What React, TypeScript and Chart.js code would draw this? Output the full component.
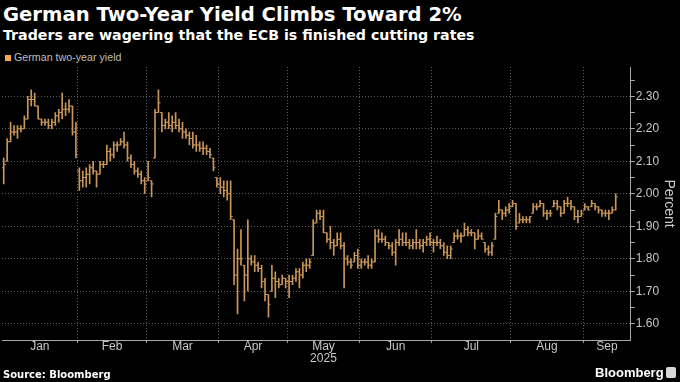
import React, { useEffect, useRef } from "react";
import { Chart, registerables } from "chart.js";

Chart.register(...registerables);

// ---- Data ----
const monthNames = ["Jan", "Feb", "Mar", "Apr", "May", "Jun", "Jul", "Aug", "Sep"];
const yearLabel = "2025";
const tradingDaysPerMonth = [22, 20, 21, 20, 21, 21, 23, 21, 10];

// Daily open / high / low / close of the German two-year yield (percent)
const yieldHigh = [
  2.11, 2.17, 2.22, 2.21, 2.21, 2.21, 2.24, 2.30, 2.32, 2.31, 2.27, 2.23, 2.23, 2.23, 2.23, 2.25, 2.26, 2.31, 2.28, 2.29, 2.27, 2.22,
  2.08, 2.07, 2.08, 2.09, 2.10, 2.07, 2.10, 2.10, 2.15, 2.14, 2.16, 2.16, 2.17, 2.19, 2.16, 2.12, 2.10, 2.08, 2.07, 2.05,
  2.10, 2.04, 2.26, 2.32, 2.25, 2.23, 2.25, 2.24, 2.25, 2.23, 2.22, 2.20, 2.19, 2.19, 2.18, 2.16, 2.16, 2.15, 2.14, 2.11, 2.05,
  2.05, 2.04, 2.04, 2.04, 1.92, 1.83, 1.89, 1.78, 1.92, 1.81, 1.81, 1.79, 1.78, 1.74, 1.69, 1.78, 1.76, 1.74, 1.75, 1.74,
  1.75, 1.75, 1.77, 1.77, 1.79, 1.80, 1.80, 1.92, 1.95, 1.95, 1.95, 1.88, 1.90, 1.86, 1.88, 1.88, 1.85, 1.81, 1.80, 1.82, 1.83,
  1.80, 1.80, 1.81, 1.80, 1.89, 1.89, 1.88, 1.87, 1.85, 1.85, 1.86, 1.89, 1.88, 1.88, 1.86, 1.86, 1.89, 1.86, 1.86, 1.87, 1.88,
  1.86, 1.87, 1.86, 1.85, 1.84, 1.84, 1.88, 1.89, 1.88, 1.91, 1.90, 1.89, 1.88, 1.89, 1.88, 1.85, 1.84, 1.85, 1.94, 1.98, 1.95, 1.96, 1.97,
  1.98, 1.97, 1.94, 1.93, 1.93, 1.93, 1.97, 1.97, 1.98, 1.97, 1.95, 1.95, 1.98, 1.98, 1.96, 1.98, 1.99, 1.98, 1.96, 1.95, 1.95,
  1.97, 1.96, 1.98, 1.97, 1.96, 1.95, 1.95, 1.95, 1.96, 2.00,
];

const yieldLow = [
  2.03, 2.10, 2.16, 2.18, 2.17, 2.19, 2.20, 2.23, 2.27, 2.27, 2.23, 2.21, 2.21, 2.20, 2.20, 2.21, 2.22, 2.23, 2.24, 2.25, 2.18, 2.11,
  2.01, 2.02, 2.02, 2.03, 2.06, 2.02, 2.06, 2.08, 2.09, 2.10, 2.11, 2.13, 2.15, 2.14, 2.10, 2.08, 2.06, 2.05, 2.03, 2.00,
  2.04, 1.99, 2.11, 2.25, 2.19, 2.20, 2.20, 2.19, 2.20, 2.19, 2.17, 2.17, 2.15, 2.14, 2.13, 2.13, 2.12, 2.12, 2.11, 2.07, 2.02,
  2.00, 1.99, 1.98, 1.92, 1.72, 1.63, 1.78, 1.67, 1.70, 1.78, 1.76, 1.76, 1.71, 1.67, 1.62, 1.70, 1.68, 1.71, 1.72, 1.71,
  1.68, 1.72, 1.73, 1.71, 1.74, 1.76, 1.77, 1.81, 1.91, 1.92, 1.88, 1.85, 1.83, 1.81, 1.84, 1.83, 1.71, 1.78, 1.77, 1.79, 1.77,
  1.77, 1.78, 1.77, 1.77, 1.79, 1.85, 1.85, 1.84, 1.83, 1.81, 1.78, 1.84, 1.84, 1.84, 1.83, 1.83, 1.83, 1.83, 1.82, 1.84, 1.84,
  1.82, 1.84, 1.83, 1.81, 1.80, 1.80, 1.85, 1.86, 1.85, 1.87, 1.87, 1.87, 1.83, 1.86, 1.86, 1.82, 1.81, 1.81, 1.86, 1.94, 1.92, 1.93, 1.94,
  1.96, 1.89, 1.91, 1.91, 1.91, 1.91, 1.94, 1.95, 1.96, 1.93, 1.92, 1.93, 1.96, 1.95, 1.93, 1.94, 1.96, 1.95, 1.92, 1.91, 1.93,
  1.95, 1.95, 1.96, 1.95, 1.94, 1.93, 1.93, 1.92, 1.94, 1.95,
];

const yieldOpen = [
  2.08, 2.10, 2.16, 2.19, 2.19, 2.20, 2.20, 2.23, 2.29, 2.29, 2.27, 2.23, 2.22, 2.22, 2.21, 2.22, 2.24, 2.25, 2.26, 2.26, 2.27, 2.19,
  2.07, 2.04, 2.05, 2.06, 2.08, 2.07, 2.06, 2.09, 2.09, 2.13, 2.12, 2.15, 2.15, 2.16, 2.15, 2.11, 2.09, 2.07, 2.06, 2.04,
  2.04, 2.04, 2.11, 2.25, 2.25, 2.21, 2.22, 2.21, 2.22, 2.21, 2.20, 2.19, 2.18, 2.17, 2.15, 2.15, 2.14, 2.14, 2.13, 2.11, 2.05,
  2.03, 2.02, 2.01, 2.00, 1.92, 1.75, 1.80, 1.78, 1.75, 1.80, 1.79, 1.78, 1.77, 1.73, 1.69, 1.70, 1.74, 1.73, 1.72, 1.74,
  1.73, 1.73, 1.74, 1.76, 1.75, 1.78, 1.78, 1.81, 1.91, 1.94, 1.93, 1.88, 1.86, 1.85, 1.84, 1.86, 1.84, 1.80, 1.79, 1.79, 1.81,
  1.78, 1.79, 1.79, 1.78, 1.79, 1.87, 1.86, 1.86, 1.85, 1.84, 1.82, 1.85, 1.86, 1.85, 1.85, 1.84, 1.85, 1.85, 1.84, 1.85, 1.86,
  1.85, 1.85, 1.85, 1.84, 1.82, 1.81, 1.85, 1.87, 1.87, 1.87, 1.89, 1.88, 1.88, 1.86, 1.87, 1.85, 1.83, 1.82, 1.86, 1.94, 1.95, 1.94, 1.95,
  1.96, 1.97, 1.91, 1.92, 1.92, 1.92, 1.94, 1.96, 1.96, 1.97, 1.94, 1.94, 1.96, 1.97, 1.96, 1.94, 1.97, 1.97, 1.96, 1.93, 1.93,
  1.95, 1.96, 1.96, 1.97, 1.96, 1.95, 1.94, 1.94, 1.94, 1.95,
];

const yieldClose = [
  2.09, 2.16, 2.19, 2.19, 2.20, 2.20, 2.23, 2.29, 2.29, 2.27, 2.23, 2.22, 2.22, 2.21, 2.22, 2.24, 2.25, 2.26, 2.26, 2.27, 2.19, 2.12,
  2.04, 2.05, 2.06, 2.08, 2.07, 2.06, 2.09, 2.09, 2.13, 2.12, 2.15, 2.15, 2.16, 2.15, 2.11, 2.09, 2.07, 2.06, 2.04, 2.03,
  2.05, 2.03, 2.25, 2.28, 2.21, 2.22, 2.21, 2.22, 2.21, 2.20, 2.19, 2.18, 2.17, 2.15, 2.15, 2.14, 2.14, 2.13, 2.12, 2.08, 2.03,
  2.02, 2.01, 2.00, 1.93, 1.75, 1.80, 1.80, 1.75, 1.80, 1.79, 1.78, 1.77, 1.73, 1.69, 1.66, 1.74, 1.73, 1.72, 1.74, 1.73,
  1.73, 1.74, 1.76, 1.75, 1.78, 1.78, 1.79, 1.91, 1.94, 1.93, 1.88, 1.86, 1.85, 1.84, 1.86, 1.84, 1.80, 1.79, 1.78, 1.81, 1.78,
  1.79, 1.79, 1.78, 1.79, 1.87, 1.86, 1.86, 1.85, 1.84, 1.82, 1.85, 1.86, 1.85, 1.85, 1.84, 1.85, 1.85, 1.84, 1.85, 1.86, 1.85,
  1.85, 1.85, 1.84, 1.82, 1.81, 1.83, 1.87, 1.87, 1.87, 1.89, 1.88, 1.88, 1.86, 1.87, 1.86, 1.83, 1.82, 1.84, 1.93, 1.95, 1.94, 1.95, 1.96,
  1.97, 1.90, 1.92, 1.92, 1.92, 1.93, 1.96, 1.96, 1.97, 1.94, 1.94, 1.94, 1.97, 1.96, 1.94, 1.97, 1.97, 1.96, 1.93, 1.93, 1.94,
  1.96, 1.95, 1.97, 1.96, 1.95, 1.94, 1.94, 1.94, 1.95, 1.99,
];

const yMin = 1.55;
const yMax = 2.39;
const yTickStep = 0.05;
const xMaxSlots = 182.4;
const tickOffset = 0.3; // open/close tick offset in slot units

const BAR_COLOR = "#c99659";
const GRID_COLOR = "#5a5a5a";
const AXIS_COLOR = "#a8a8a8";
const LABEL_COLOR = "#c8c8c8";
const FONT = "'Liberation Sans', Arial, sans-serif";

function buildMonthTicks() {
  const boundaries: number[] = [];
  const mids: number[] = [];
  let start = 0;
  tradingDaysPerMonth.forEach((n, m) => {
    const left = start - 0.5;
    const right = m === tradingDaysPerMonth.length - 1 ? xMaxSlots : start + n - 0.5;
    if (m > 0) boundaries.push(left);
    mids.push((left + right) / 2);
    start += n;
  });
  return { boundaries, mids };
}

export default function App() {
  const canvasRef = useRef<HTMLCanvasElement | null>(null);

  useEffect(() => {
    document.body.style.margin = "0";
    document.body.style.background = "#000";
    const canvas = canvasRef.current;
    if (!canvas) return;
    const { boundaries, mids } = buildMonthTicks();
    const isBoundary = (v: number) => boundaries.some((b) => Math.abs(b - v) < 1e-6);
    const midIndex = (v: number) => mids.findIndex((b) => Math.abs(b - v) < 1e-6);

    const rangeBars = yieldHigh.map((h, i) => ({ x: i, y: [yieldLow[i], h] }));
    const openTicks = yieldOpen.map((o, i) => ({ x: i - tickOffset, y: o }));
    const closeTicks = yieldClose.map((c, i) => ({ x: i + tickOffset, y: c }));

    const tickDataset = (label: string, data: any[]) => ({
      type: "scatter",
      label,
      data,
      showLine: false,
      pointStyle: "line",
      pointRadius: 1,
      pointHoverRadius: 1,
      borderColor: BAR_COLOR,
      backgroundColor: BAR_COLOR,
      pointBorderWidth: 1,
      borderWidth: 1,
    });

    const chart = new Chart(canvas, {
      type: "bar",
      data: {
        datasets: [
          {
            type: "bar",
            label: "German two-year yield",
            data: rangeBars as any,
            backgroundColor: BAR_COLOR,
            borderWidth: 0,
            barThickness: 1,
            grouped: false,
          } as any,
          tickDataset("Open", openTicks) as any,
          tickDataset("Close", closeTicks) as any,
        ],
      },
      options: {
        responsive: false,
        maintainAspectRatio: false,
        animation: false,
        layout: { padding: { top: 67, left: 0, right: 0, bottom: 19 } },
        plugins: {
          legend: { display: false },
          tooltip: { enabled: false },
        },
        scales: {
          x: {
            type: "linear",
            position: "bottom",
            offset: false,
            min: -0.5,
            max: xMaxSlots,
            afterBuildTicks: (axis: any) => {
              const vals = [...boundaries, ...mids].sort((a, b) => a - b);
              axis.ticks = vals.map((v) => ({ value: v }));
            },
            afterFit: (axis: any) => {
              axis.paddingLeft = 0;
              axis.paddingRight = 0;
            },
            ticks: {
              autoSkip: false,
              maxRotation: 0,
              padding: -2,
              color: LABEL_COLOR,
              font: { family: FONT, size: 12, lineHeight: 1.0 },
              callback: (value: any) => {
                const mi = midIndex(Number(value));
                if (mi < 0) return "";
                return monthNames[mi] === "May" ? [monthNames[mi], yearLabel] : monthNames[mi];
              },
            },
            grid: {
              offset: false,
              drawOnChartArea: true,
              tickLength: 3,
              color: (ctx: any) => (ctx.tick && isBoundary(ctx.tick.value) ? GRID_COLOR : "rgba(0,0,0,0)"),
              tickColor: (ctx: any) => (ctx.tick && isBoundary(ctx.tick.value) ? AXIS_COLOR : "rgba(0,0,0,0)"),
            },
            border: { display: true, color: AXIS_COLOR, width: 1, dash: [1, 2] },
          },
          y: {
            type: "linear",
            position: "right",
            min: yMin,
            max: yMax,
            afterBuildTicks: (axis: any) => {
              const ticks: any[] = [];
              for (let k = 1; ; k++) {
                const v = Math.round((yMin + k * yTickStep) * 100) / 100;
                if (v > yMax) break;
                ticks.push({ value: v });
              }
              axis.ticks = ticks;
            },
            ticks: {
              autoSkip: false,
              padding: 1,
              color: LABEL_COLOR,
              font: { family: FONT, size: 12 },
              callback: (value: any) => {
                const c = Math.round(Number(value) * 100);
                return c % 10 === 0 ? Number(value).toFixed(2) : "";
              },
            },
            grid: {
              drawOnChartArea: true,
              tickLength: 4,
              color: (ctx: any) => {
                if (!ctx.tick) return "rgba(0,0,0,0)";
                const c = Math.round(ctx.tick.value * 100);
                return c % 10 === 0 ? GRID_COLOR : "rgba(0,0,0,0)";
              },
              tickColor: AXIS_COLOR,
            },
            border: { display: true, color: AXIS_COLOR, width: 1, dash: [1, 2] },
            title: {
              display: true,
              text: "Percent",
              color: LABEL_COLOR,
              font: { family: FONT, size: 14 },
              padding: { top: 3, bottom: 0 },
            },
          },
        },
      } as any,
    });
    return () => chart.destroy();
  }, []);

  return (
    <div style={{ position: "relative", width: 680, height: 382, background: "#000", overflow: "hidden" }}>
      <div
        style={{
          position: "absolute",
          left: 3,
          top: 5,
          color: "#fff",
          font: "bold 19.6px 'DejaVu Sans', sans-serif",
          lineHeight: "19px",
          whiteSpace: "nowrap",
        }}
      >
        German Two-Year Yield Climbs Toward 2%
      </div>
      <div
        style={{
          position: "absolute",
          left: 3,
          top: 28,
          color: "#fff",
          font: "bold 14.2px 'DejaVu Sans', sans-serif",
          lineHeight: "14px",
          whiteSpace: "nowrap",
        }}
      >
        Traders are wagering that the ECB is finished cutting rates
      </div>
      <div style={{ position: "absolute", left: 5, top: 55, width: 6, height: 6, background: "#f5a54a" }} />
      <div
        style={{
          position: "absolute",
          left: 14,
          top: 51,
          color: "#bdbdbd",
          font: `10.7px ${FONT}`,
          lineHeight: "13px",
          whiteSpace: "nowrap",
        }}
      >
        German two-year yield
      </div>
      <canvas
        ref={canvasRef}
        width={680}
        height={382}
        style={{ position: "absolute", left: 0, top: 0, width: 680, height: 382 }}
      />
      <div
        style={{
          position: "absolute",
          left: 3,
          top: 369,
          color: "#fff",
          font: "bold 10px 'DejaVu Sans', sans-serif",
          lineHeight: "12px",
          whiteSpace: "nowrap",
        }}
      >
        Source: Bloomberg
      </div>
      <div
        style={{
          position: "absolute",
          left: 595,
          top: 365,
          color: "#fff",
          font: `bold 13px ${FONT}`,
          lineHeight: "15px",
          whiteSpace: "nowrap",
        }}
      >
        Bloomberg
      </div>
      <div
        style={{
          position: "absolute",
          left: 666,
          top: 367,
          width: 10,
          height: 11,
          background: "#d8d8d8",
          borderRadius: 2,
        }}
      />
    </div>
  );
}
